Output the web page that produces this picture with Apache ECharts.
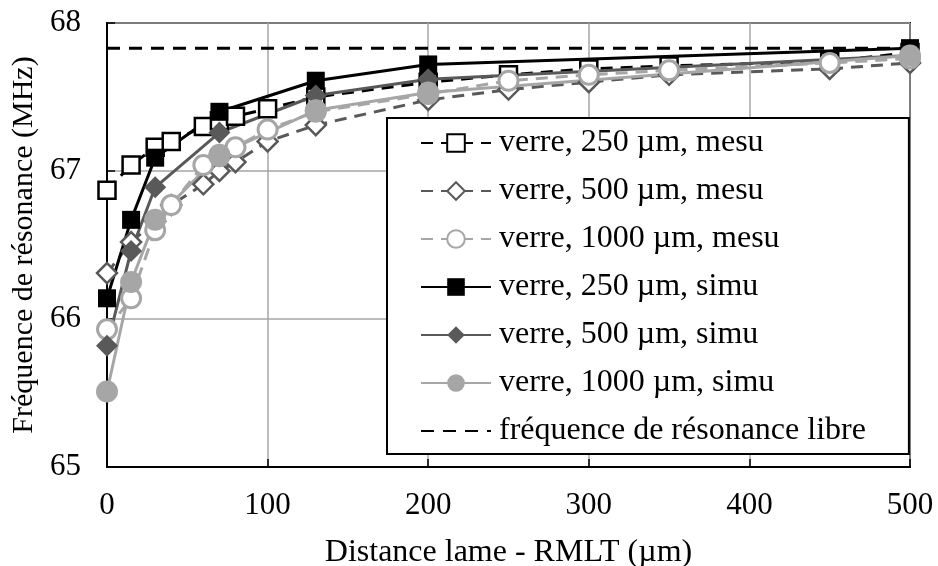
<!DOCTYPE html>
<html>
<head>
<meta charset="utf-8">
<script src="https://cdn.jsdelivr.net/npm/echarts@6/dist/echarts.min.js"></script>
<style>
  html, body { margin: 0; padding: 0; background: #fff; }
  #chart { width: 938px; height: 566px; }
</style>
</head>
<body>
<div id="chart"></div>
<script>
var chartDom = document.getElementById('chart');
var myChart = echarts.init(chartDom);
var option;

// distances (um)
var xMesu = [0, 15, 30, 40, 60, 70, 80, 100, 130, 200, 250, 300, 350, 450, 500];
var xSimu = [0, 15, 30, 70, 130, 200, 500];

// resonance frequency (MHz)
var mesu250 = [66.87, 67.04, 67.16, 67.20, 67.30, 67.34, 67.37, 67.42, 67.50, 67.60, 67.65, 67.69, 67.71, 67.74, 67.80];
var mesu500 = [66.31, 66.52, 66.66, 66.77, 66.91, 67.00, 67.06, 67.20, 67.31, 67.48, 67.55, 67.60, 67.65, 67.69, 67.73];
var mesu1000 = [65.93, 66.14, 66.60, 66.77, 67.04, 67.10, 67.16, 67.28, 67.40, 67.52, 67.61, 67.65, 67.68, 67.73, 67.76];
var simu250 = [66.14, 66.67, 67.09, 67.40, 67.61, 67.72, 67.83];
var simu500 = [65.82, 66.46, 66.89, 67.26, 67.51, 67.62, 67.78];
var simu1000 = [65.51, 66.25, 66.67, 67.11, 67.41, 67.53, 67.78];
var libre = 67.83;

var names = [
  'verre, 250 µm, mesu',
  'verre, 500 µm, mesu',
  'verre, 1000 µm, mesu',
  'verre, 250 µm, simu',
  'verre, 500 µm, simu',
  'verre, 1000 µm, simu',
  'fréquence de résonance libre'
];

function pairs(xs, ys) {
  return xs.map(function (x, i) { return [x, ys[i]]; });
}

var font = '"Liberation Serif", "Times New Roman", serif';
var dash = [12, 8];

option = {
  backgroundColor: '#fff',
  animation: false,
  textStyle: { fontFamily: font },
  grid: {
    left: 107, right: 28, top: 23, bottom: 99,
    containLabel: false, outerBoundsMode: 'none',
    show: true, borderColor: '#000', borderWidth: 2
  },
  legend: {
    orient: 'vertical',
    left: 387, top: 118,
    padding: [9, 43, 7, 33],
    backgroundColor: '#fff',
    borderColor: '#000',
    borderWidth: 2,
    borderRadius: 0,
    itemWidth: 70,
    itemHeight: 22,
    itemGap: 16,
    textStyle: { fontFamily: font, fontSize: 32, color: '#000', lineHeight: 32, padding: [0, 0, 0, 3] },
    data: names
  },
  xAxis: {
    type: 'value', min: 0, max: 500, interval: 100,
    name: 'Distance lame - RMLT (µm)',
    nameLocation: 'middle', nameGap: 70,
    nameTextStyle: { fontFamily: font, fontSize: 32, color: '#000' },
    axisLine: { lineStyle: { color: '#000', width: 2 } },
    axisTick: { inside: true, length: 8, lineStyle: { color: '#000', width: 1.5 } },
    axisLabel: { fontFamily: font, fontSize: 31, color: '#000', margin: 23 },
    splitLine: { lineStyle: { color: '#a6a6a6', width: 1.5 } }
  },
  yAxis: {
    type: 'value', min: 65, max: 68, interval: 1,
    name: 'Fréquence de résonance (MHz)',
    nameLocation: 'middle', nameGap: 64,
    nameTextStyle: { fontFamily: font, fontSize: 30, color: '#000' },
    axisLine: { show: true, lineStyle: { color: '#000', width: 2 } },
    axisTick: { show: true, inside: true, length: 8, lineStyle: { color: '#000', width: 1.5 } },
    axisLabel: { fontFamily: font, fontSize: 31, color: '#000', margin: 26 },
    splitLine: { lineStyle: { color: '#a6a6a6', width: 1.5 } }
  },
  series: [
    {
      name: names[0], type: 'line', data: pairs(xMesu, mesu250),
      symbol: 'rect', symbolSize: 17,
      lineStyle: { color: '#000', width: 3, type: dash },
      itemStyle: { color: '#fff', borderColor: '#000', borderWidth: 2.5 }
    },
    {
      name: names[1], type: 'line', data: pairs(xMesu, mesu500),
      symbol: 'diamond', symbolSize: 20,
      lineStyle: { color: '#595959', width: 3, type: dash },
      itemStyle: { color: '#fff', borderColor: '#595959', borderWidth: 2.5 }
    },
    {
      name: names[2], type: 'line', data: pairs(xMesu, mesu1000),
      symbol: 'circle', symbolSize: 19,
      lineStyle: { color: '#a6a6a6', width: 3, type: dash },
      itemStyle: { color: '#fff', borderColor: '#a6a6a6', borderWidth: 3 }
    },
    {
      name: names[3], type: 'line', data: pairs(xSimu, simu250),
      symbol: 'rect', symbolSize: 18,
      lineStyle: { color: '#000', width: 3 },
      itemStyle: { color: '#000', borderColor: '#000', borderWidth: 0 }
    },
    {
      name: names[4], type: 'line', data: pairs(xSimu, simu500),
      symbol: 'diamond', symbolSize: 22,
      lineStyle: { color: '#595959', width: 3 },
      itemStyle: { color: '#595959', borderWidth: 0 }
    },
    {
      name: names[5], type: 'line', data: pairs(xSimu, simu1000),
      symbol: 'circle', symbolSize: 22,
      lineStyle: { color: '#a6a6a6', width: 3 },
      itemStyle: { color: '#a6a6a6', borderWidth: 0 }
    },
    {
      name: names[6], type: 'line', data: [[0, libre], [500, libre]],
      symbol: 'none', z: 1,
      lineStyle: { color: '#000', width: 3, type: [13, 9] },
      itemStyle: { color: 'rgba(0,0,0,0)' }
    }
  ]
};

option && myChart.setOption(option);
</script>
</body>
</html>
